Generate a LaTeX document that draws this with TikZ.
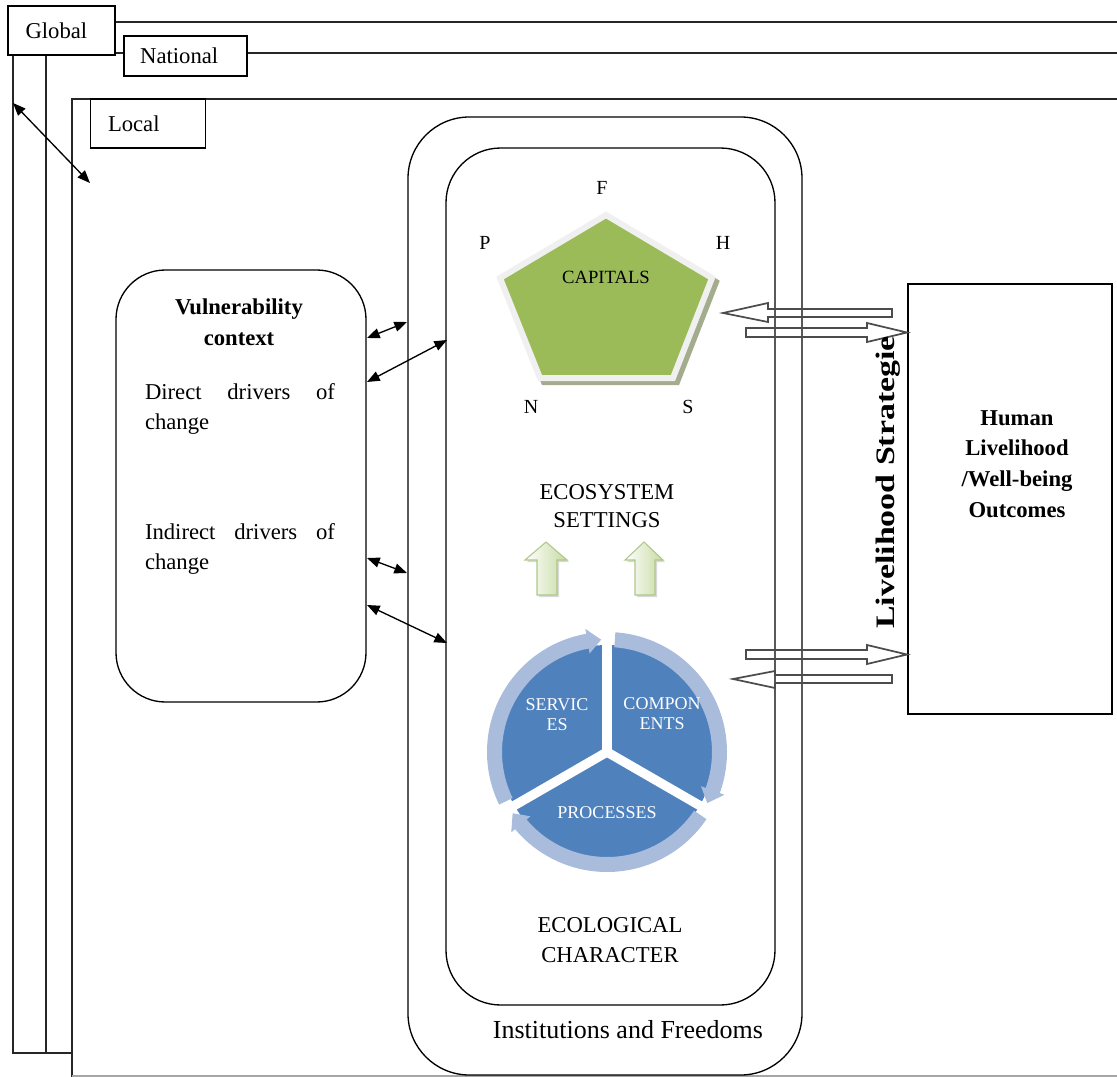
\documentclass[tikz,border=0pt]{standalone}
\usepackage{fontspec}
\setmainfont{Liberation Serif}
\usetikzlibrary{arrows.meta}
\definecolor{pgreen}{HTML}{9BBB59}
\definecolor{pshadow}{HTML}{A3AC8C}
\definecolor{dblue}{HTML}{4F81BD}
\definecolor{lblue}{HTML}{A9BCDC}
\definecolor{agreen}{HTML}{C6DAA2}
\definecolor{aborder}{HTML}{AFC78A}
\newcommand\ringarrow[3]{%
  \fill[lblue] (#1:120) arc[start angle=#1, end angle=#2, radius=120]
    -- (#2:125) -- (#3:112.5) -- (#2:100) -- (#2:105)
    arc[start angle=#2, end angle=#1, radius=105] -- cycle;}
\begin{document}
\begin{tikzpicture}[x=0.75pt,y=-0.75pt,
  frame/.style={line width=1.2pt, draw=black!85},
  lab/.style={draw, line width=1pt, fill=white, inner sep=0pt, align=left,
    font=\fontsize{17}{20}\selectfont},
  box/.style={draw, line width=1pt, inner sep=0pt},
  txt/.style={inner sep=1pt, font=\fontsize{17}{23}\selectfont},
  btxt/.style={inner sep=1pt, font=\bfseries\fontsize{17}{23}\selectfont},
  ptxt/.style={inner sep=1pt, font=\fontsize{15}{18}\selectfont},
  wtxt/.style={inner sep=1pt, text=white, align=center, font=\fontsize{13.5}{15}\selectfont},
  dar/.style={{Triangle[length=9.5pt,width=7.5pt]}-{Triangle[length=9.5pt,width=7.5pt]}, line width=1pt},
  blk/.style={draw=black!70, line width=1.3pt, line join=miter},
  garrow/.style={left color=white, right color=agreen, draw=aborder, line width=0.8pt}
]
\useasboundingbox (0,0) rectangle (1117,1077);

% ---------- scale frames ----------
\draw[frame] (115,22) -- (1117,22);
\draw[frame] (13,55) -- (13,1053) -- (72,1053);
\draw[frame] (46,55) -- (46,1053);
\draw[frame] (115,53) -- (1117,53);
\draw[frame] (72,1077) -- (72,99) -- (1117,99);
\draw[black!35, line width=0.8pt] (72,1076) -- (1117,1076);

\node[lab, minimum width=80.25pt, minimum height=36.75pt, text width=54pt] (global) at (61.5,30.5) {Global};
\node[lab, minimum width=92.25pt, minimum height=30pt, text width=68pt] (national) at (185.5,56) {National};
\node[lab, minimum width=86.25pt, minimum height=36.75pt, text width=60pt] (local) at (148,123.5) {Local};

\coordinate (gl) at (13,103);
\coordinate (lc) at (90,183);
\draw[dar] (gl) -- (lc);

% ---------- main boxes ----------
\node[box, rounded corners=37pt, minimum width=187.5pt, minimum height=324pt] (vul) at (241,486) {};
\node[box, rounded corners=46pt, minimum width=295.5pt, minimum height=718.5pt] (inst) at (605,596) {};
\node[box, rounded corners=41pt, minimum width=246.75pt, minimum height=642.75pt] (eco) at (610.5,576.5) {};
\node[box, minimum width=153pt, minimum height=322.5pt] (human) at (1010,499) {};

% ---------- vulnerability text ----------
\node[btxt, align=center] (vtitle) at (239,322) {Vulnerability\\context};
\node[txt, text width=142.5pt, align=justify] (direct) at (240,409) {Direct drivers of change};
\node[txt, text width=142.5pt, align=justify] (indirect) at (240,549) {Indirect drivers of change};

% ---------- connectors vulnerability <-> institutions ----------
\coordinate (v1) at (367,338); \coordinate (i1) at (407,322);
\coordinate (v2) at (367,382); \coordinate (e2) at (447,340);
\coordinate (v3) at (367,558); \coordinate (i3) at (407,573);
\coordinate (v4) at (367,605); \coordinate (e4) at (447,643);
\draw[dar] (v1) -- (i1);
\draw[dar] (v2) -- (e2);
\draw[dar] (v3) -- (i3);
\draw[dar] (v4) -- (e4);

% ---------- pentagon ----------
\draw[pshadow, fill=pshadow, line width=4.5pt, line join=miter, shift={(4,4)}]
  (606,215) -- (712,278) -- (673,378) -- (540,378) -- (500,278) -- cycle;
\draw[black!6, fill=pgreen, line width=4.5pt, line join=miter]
  (606,215) -- (712,278) -- (673,378) -- (540,378) -- (500,278) -- cycle;
\node[inner sep=1pt, font=\fontsize{14}{16}\selectfont] (capitals) at (606,277) {CAPITALS};
\node[ptxt] (F) at (602,188) {F};
\node[ptxt] (P) at (485,243) {P};
\node[ptxt] (H) at (723,243) {H};
\node[ptxt] (N) at (531,407) {N};
\node[ptxt] (S) at (688,407) {S};

\node[txt, align=center, font=\fontsize{17}{21}\selectfont] (settings) at (607,506) {ECOSYSTEM\\SETTINGS};

% ---------- green up arrows ----------
\fill[black!15, shift={(2,2)}] (537,595) -- (537,560) -- (525,560) -- (546,542) -- (567,560) -- (557,560) -- (557,595) -- cycle;
\shade[garrow] (537,595) -- (537,560) -- (525,560) -- (546,542) -- (567,560) -- (557,560) -- (557,595) -- cycle;
\fill[black!15, shift={(2,2)}] (635,595) -- (635,560) -- (625,560) -- (644,542) -- (663,560) -- (655,560) -- (655,595) -- cycle;
\shade[garrow] (635,595) -- (635,560) -- (625,560) -- (644,542) -- (663,560) -- (655,560) -- (655,595) -- cycle;

% ---------- cycle ----------
\begin{scope}[shift={(607,752)}, yscale=-1]
  \fill[dblue] (0,0) circle[radius=107];
  \ringarrow{206}{100}{93}
  \ringarrow{86}{-20}{-27}
  \ringarrow{-34}{-140}{-147}
  \foreach \a in {90,210,330} \draw[white, line width=7pt] (0,0) -- (\a:130);
\end{scope}
\node[wtxt] (services) at (557,715) {SERVIC\\ES};
\node[wtxt] (components) at (662,714) {COMPON\\ENTS};
\node[wtxt] (processes) at (607,813) {PROCESSES};

\node[txt, align=center, font=\fontsize{17}{22.5}\selectfont] (character) at (610,940) {ECOLOGICAL\\CHARACTER};
\node[inner sep=1pt, font=\fontsize{19.5}{22}\selectfont] (freedoms) at (628,1030) {Institutions and Freedoms};

% ---------- livelihood block arrows ----------
\draw[blk] (892,309) -- (768,309) -- (768,303) -- (723,313) -- (768,322) -- (768,317) -- (892,317) -- cycle;
\draw[blk] (746,328) -- (867,328) -- (867,323) -- (907,332.5) -- (867,342) -- (867,337) -- (746,337) -- cycle;
\draw[blk] (746,650) -- (867,650) -- (867,645) -- (907,654.5) -- (867,664) -- (867,659) -- (746,659) -- cycle;
\draw[blk] (892,675) -- (775,675) -- (775,671) -- (733,679) -- (775,688) -- (775,683) -- (892,683) -- cycle;

\begin{scope}
  \clip (860,335) rectangle (906,640);
  \node[inner sep=0pt, rotate=90, anchor=west, font=\bfseries\fontsize{20}{20}\selectfont] (strategies) at (888,629) {\scalebox{1.27}[1]{Livelihood Strategies}};
\end{scope}

\node[btxt, align=center] (outcomes) at (1017,464) {Human\\Livelihood\\/Well-being\\Outcomes};
\end{tikzpicture}
\end{document}
